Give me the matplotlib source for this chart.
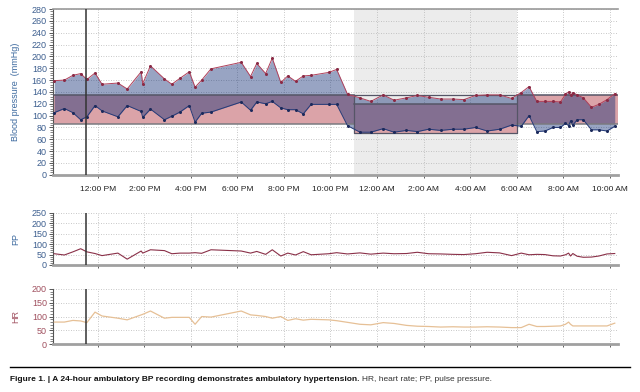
import datetime as dt
import matplotlib
matplotlib.use("Agg")
import matplotlib.pyplot as plt
import matplotlib.dates as mdates
from matplotlib.ticker import MultipleLocator, FixedLocator

plt.rcParams['font.family'] = ['Liberation Sans', 'DejaVu Sans']

# ---------------- data ----------------
times = ["10:08", "10:34", "10:56", "11:16", "11:32", "11:53", "12:11", "12:52", "13:16", "13:52",
         "13:56", "14:16", "14:52", "15:11", "15:32", "15:56", "16:11", "16:28", "16:52", "18:10",
         "18:34", "18:50", "19:13", "19:30", "19:52", "20:10", "20:30", "20:50", "21:10", "21:56",
         "22:16", "22:44", "23:16", "23:44", "00:16", "00:44", "01:16", "01:44", "02:13", "02:44",
         "03:16", "03:44", "04:14", "04:44", "05:16", "05:47", "06:12", "06:32", "06:52", "07:13",
         "07:34", "07:53", "08:06", "08:14", "08:19", "08:25", "08:36", "08:52", "09:13", "09:32",
         "09:53", "10:13"]
systolic = [159, 160, 168, 171, 161, 172, 153, 155, 145, 174,
            154, 184, 162, 153, 163, 174, 148, 160, 179, 190,
            166, 188, 171, 197, 156, 167, 158, 167, 168, 173,
            178, 136, 130, 124, 135, 126, 130, 134, 131, 128,
            128, 127, 134, 135, 135, 129, 139, 149, 124, 124,
            124, 123, 136, 140, 134, 139, 135, 130, 114, 119,
            127, 137]
diastolic = [105, 112, 105, 93, 98, 117, 108, 98, 117, 107,
             97, 111, 93, 99, 106, 117, 89, 104, 106, 123,
             109, 123, 120, 124, 113, 110, 110, 103, 119, 119,
             119, 83, 72, 72, 78, 72, 75, 73, 77, 75,
             77, 77, 80, 74, 77, 84, 82, 100, 73, 74,
             80, 80, 87, 83, 91, 84, 93, 93, 76, 76,
             74, 82]
heart_rate = [80, 80, 86, 84, 78, 116, 102, 94, 88, 106,
              108, 120, 94, 97, 97, 97, 72, 100, 98, 120,
              106, 104, 100, 94, 100, 86, 92, 87, 90, 88,
              85, 79, 72, 70, 78, 75, 68, 65, 64, 62,
              63, 62, 62, 63, 62, 60, 60, 72, 64, 64,
              65, 66, 72, 80, 72, 66, 66, 66, 66, 66,
              66, 76]

day_limits = (135, 85)      # systolic / diastolic thresholds, daytime
night_limits = (120, 70)    # systolic / diastolic thresholds, night-time
night_start, night_end = "23:00", "06:00"
marker_time = "11:30"
x_start, x_end = "10:05", "10:22"
x_tick_hours = [12, 14, 16, 18, 20, 22, 0, 2, 4, 6, 8, 10]

# ---------------- helpers ----------------
base = dt.datetime(2020, 1, 1)


def to_dt(s, first_day=True):
    h, m = map(int, s.split(":"))
    d = base + dt.timedelta(hours=h, minutes=m)
    if h < 10 or (h == 10 and not first_day):
        d += dt.timedelta(days=1)
    return d


tx = []
day2 = False
prev = None
for s in times:
    d = to_dt(s)
    if prev is not None and d < prev:
        d += dt.timedelta(days=1)
    tx.append(d)
    prev = d

pulse_pressure = [s - d for s, d in zip(systolic, diastolic)]

xmin = to_dt(x_start)
xmax = to_dt(x_end, first_day=False)
ns = to_dt(night_start)
ne = to_dt(night_end)
mk = to_dt(marker_time)
xticks = []
for h in x_tick_hours:
    d = base + dt.timedelta(hours=h)
    if h < 11:
        d += dt.timedelta(days=1)
    xticks.append(d)

# ---------------- figure ----------------
fig = plt.figure(figsize=(6.4, 3.92), dpi=100)
ax = fig.add_axes([0.083, 0.554, 0.883, 0.423])
ax_pp = fig.add_axes([0.083, 0.324, 0.883, 0.133])
ax_hr = fig.add_axes([0.083, 0.122, 0.883, 0.141])

blue_lab = '#3d5f8f'
red_lab = '#a0505f'
grid_kw = dict(color='#b5b5b5', linestyle=(0, (1, 2)), linewidth=0.6)


def style(a, ylim, major, minor, lab, labcol, ticklabcol):
    a.set_xlim(xmin, xmax)
    a.set_ylim(*ylim)
    a.yaxis.set_major_locator(MultipleLocator(major))
    a.yaxis.set_minor_locator(MultipleLocator(minor))
    a.xaxis.set_major_locator(FixedLocator(mdates.date2num(xticks)))
    for s in ['right', 'top']:
        a.spines[s].set_visible(False)
    a.spines['left'].set_color('#555555')
    a.spines['left'].set_linewidth(0.8)
    a.spines['bottom'].set_color('#a0a0a0')
    a.spines['bottom'].set_linewidth(2)
    a.tick_params(axis='y', which='major', length=3, width=0.7, color='#555555',
                  labelsize=6.5, labelcolor=ticklabcol, pad=1.5)
    a.tick_params(axis='y', which='minor', length=2.5, width=0.5, color='#555555')
    a.tick_params(axis='x', which='major', length=2, width=0.6, color='#444444',
                  labelsize=6, labelcolor='#222222', pad=6)
    a.grid(True, which='major', **grid_kw)
    a.set_axisbelow(True)
    a.set_ylabel(lab, color=labcol, fontsize=6.5, labelpad=3)
    a.axvline(mk, color='#333333', lw=1.1, zorder=6)


# main BP panel
style(ax, (0, 280), 20, 4, 'Blood pressure  (mmHg)', '#3d6a9f', blue_lab)
ax.spines['top'].set_visible(True)
ax.spines['top'].set_color('#9a9a9a')
ax.spines['top'].set_linewidth(1.2)
ax.axvspan(ns, ne, color='#ececec', zorder=0, lw=0)

band_col = '#dba3a8'
edge = '#555566'
ax.fill_between([xmin, ns], day_limits[1], day_limits[0], color=band_col, lw=0, zorder=1)
ax.fill_between([ns, ne], night_limits[1], night_limits[0], color=band_col, lw=0, zorder=1)
ax.fill_between([ne, xmax], day_limits[1], day_limits[0], color=band_col, lw=0, zorder=1)

ax.fill_between(tx, systolic, diastolic, color='#0a2872', alpha=0.42, lw=0, zorder=2)

# band outlines
ax.plot([xmin, ns], [day_limits[0]] * 2, color=edge, lw=1.1, zorder=3)
ax.plot([xmin, ns], [day_limits[1]] * 2, color='#7a7a80', lw=1.1, zorder=3)
ax.plot([ne, xmax], [day_limits[0]] * 2, color=edge, lw=1.1, zorder=3)
ax.plot([ne, xmax], [day_limits[1]] * 2, color='#7a7a80', lw=1.1, zorder=3)
ax.plot([ns, ns, ne, ne, ns], [day_limits[0], night_limits[1], night_limits[1], day_limits[0], day_limits[0]],
        color=edge, lw=0.9, zorder=3)
ax.plot([ns, ne], [night_limits[0]] * 2, color=edge, lw=1.1, zorder=3)

ax.plot(tx, systolic, color='#b0405a', lw=0.7, zorder=4)
ax.plot(tx, systolic, 'o', color='#8a2a45', ms=2.2, mew=0, zorder=5)
ax.plot(tx, diastolic, color='#243a78', lw=0.7, zorder=4)
ax.plot(tx, diastolic, 'o', color='#1c2a5c', ms=2.2, mew=0, zorder=5)


def fmt(x, pos):
    d = mdates.num2date(x)
    h = d.hour
    suf = 'AM' if h < 12 else 'PM'
    h12 = h % 12
    if h12 == 0:
        h12 = 12
    return f"{h12}:00 {suf}"


ax.xaxis.set_major_formatter(plt.FuncFormatter(fmt))

# PP panel
style(ax_pp, (0, 250), 50, 10, 'PP', '#3d6a9f', blue_lab)
ax_pp.plot(tx, pulse_pressure, color='#8a3048', lw=0.8, zorder=4)
ax_pp.tick_params(axis='x', labelbottom=False)

# HR panel
style(ax_hr, (0, 200), 50, 10, 'HR', red_lab, red_lab)
ax_hr.plot(tx, heart_rate, color='#e6c096', lw=0.9, zorder=4)
ax_hr.tick_params(axis='x', labelbottom=False)

for a in (ax, ax_pp, ax_hr):
    a.yaxis.set_label_coords(-0.058, 0.5)

# caption
fig.add_artist(plt.Line2D([0.016, 0.984], [0.064, 0.064], color='black', lw=1.0))
cap_font = ['Liberation Sans Narrow', 'Liberation Sans', 'DejaVu Sans']
t1 = fig.text(0.016, 0.032, "Figure 1. | A 24-hour ambulatory BP recording demonstrates ambulatory hypertension.",
              fontsize=6, fontweight='bold', family=cap_font, va='center', color='#111111')
fig.canvas.draw()
bb = t1.get_window_extent()
x2 = bb.x1 / fig.bbox.width
fig.text(x2 + 0.004, 0.032, "HR, heart rate; PP, pulse pressure.", fontsize=6, family=cap_font,
         va='center', color='#333333')

fig.savefig('out.png', dpi=100)
